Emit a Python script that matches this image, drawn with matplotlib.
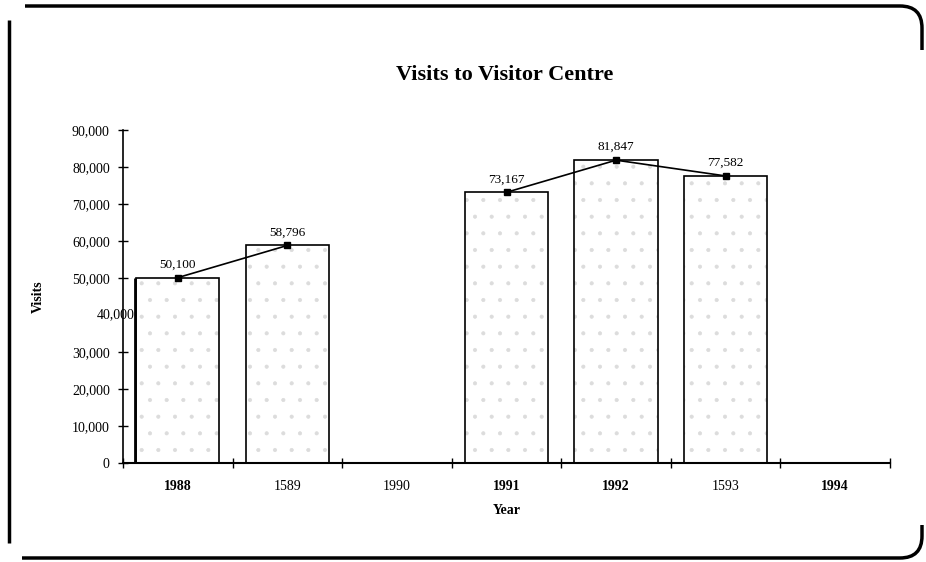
import numpy as np
import matplotlib
matplotlib.use('Agg')
import matplotlib.pyplot as plt
from matplotlib.path import Path
from matplotlib.patches import PathPatch
import matplotlib.transforms as mtransforms

# データ（スキャン画像から読み取り）
years = ['1988', '1589', '1990', '1991', '1992', '1593', '1994']
visits = [50100, 58796, np.nan, 73167, 81847, 77582, np.nan]
bold_years = ['1988', '1991', '1992', '1994']
y_ticks = [0, 10000, 20000, 30000, 50000, 60000, 70000, 80000, 90000]
odd_tick = 40000

W, H = 926, 562
plt.rcParams['font.family'] = ['Liberation Serif', 'DejaVu Serif']
plt.rcParams['hatch.linewidth'] = 0.5

fig = plt.figure(figsize=(W / 100, H / 100), dpi=100)
ax = fig.add_axes([123 / W, 1 - 463 / H, 767 / W, 333 / H])

x = np.arange(len(years))
v = np.array(visits, dtype=float)
ok = ~np.isnan(v)

# 点描風の棒
ax.bar(x[ok], v[ok], width=0.76, color='white', edgecolor='#dcdcdc',
       hatch='.', linewidth=0, zorder=1)
ax.bar(x[ok], v[ok], width=0.76, fill=False, edgecolor='black',
       linewidth=1.2, zorder=2)
# 1988 左の太線（原図のかすれ）
ax.vlines(x[0] - 0.39, 0, v[0], color='black', linewidth=2, zorder=2)

# 折れ線
ax.plot(x, v, '-s', color='black', lw=1.2, ms=5, zorder=3)
for xi, vi in zip(x[ok], v[ok]):
    ax.annotate(f'{int(vi):,}', (xi, vi), xytext=(0, 5), textcoords='offset points',
                ha='center', va='bottom', fontsize=9.5)

ax.set_xlim(-0.5, len(years) - 0.5)
ax.set_ylim(0, 90000)

for s in ['top', 'right']:
    ax.spines[s].set_visible(False)
ax.spines['left'].set_linewidth(1.2)
ax.spines['bottom'].set_linewidth(1.5)

ax.set_yticks(y_ticks)
ax.set_yticklabels([f'{t:,}' for t in y_ticks], fontsize=10)
ax.tick_params(axis='y', direction='inout', length=7, width=1, pad=6)
ax.text(0.0156, odd_tick, f'{odd_tick:,}',
        transform=mtransforms.blended_transform_factory(ax.transAxes, ax.transData),
        ha='right', va='center', fontsize=10)

ax.set_xticks(np.arange(len(years) + 1) - 0.5)
ax.set_xticklabels([])
ax.tick_params(axis='x', which='major', direction='inout', length=7, width=1)
ax.set_xticks(x, minor=True)
ax.set_xticklabels(years, minor=True, fontsize=10)
ax.tick_params(axis='x', which='minor', length=0, pad=12)
for lab in ax.get_xticklabels(minor=True):
    if lab.get_text() in bold_years:
        lab.set_fontweight('bold')

ax.set_ylabel('Visits', fontsize=10, fontweight='bold')
ax.yaxis.set_label_coords(-0.102, 0.5)
fig.text(507 / W, 1 - 510 / H, 'Year', ha='center', va='center', fontsize=10, fontweight='bold')
fig.text(505 / W, 1 - 75 / H, 'Visits to Visitor Centre', ha='center', va='center',
         fontsize=16, fontweight='bold')

# 外枠（右側が丸い角）
def px(pts):
    return [(a / W, 1 - b / H) for a, b in pts]

top = Path(px([(25, 6), (900, 6), (922, 6), (922, 28), (922, 50)]),
           [Path.MOVETO, Path.LINETO, Path.CURVE3, Path.CURVE3, Path.LINETO])
bot = Path(px([(22, 558), (900, 558), (922, 558), (922, 536), (922, 525)]),
           [Path.MOVETO, Path.LINETO, Path.CURVE3, Path.CURVE3, Path.LINETO])
left = Path(px([(9, 20), (9, 543)]), [Path.MOVETO, Path.LINETO])
for p in (top, bot, left):
    fig.add_artist(PathPatch(p, fill=False, lw=2.5, edgecolor='black',
                             transform=fig.transFigure))

fig.savefig('out.png', dpi=100)
